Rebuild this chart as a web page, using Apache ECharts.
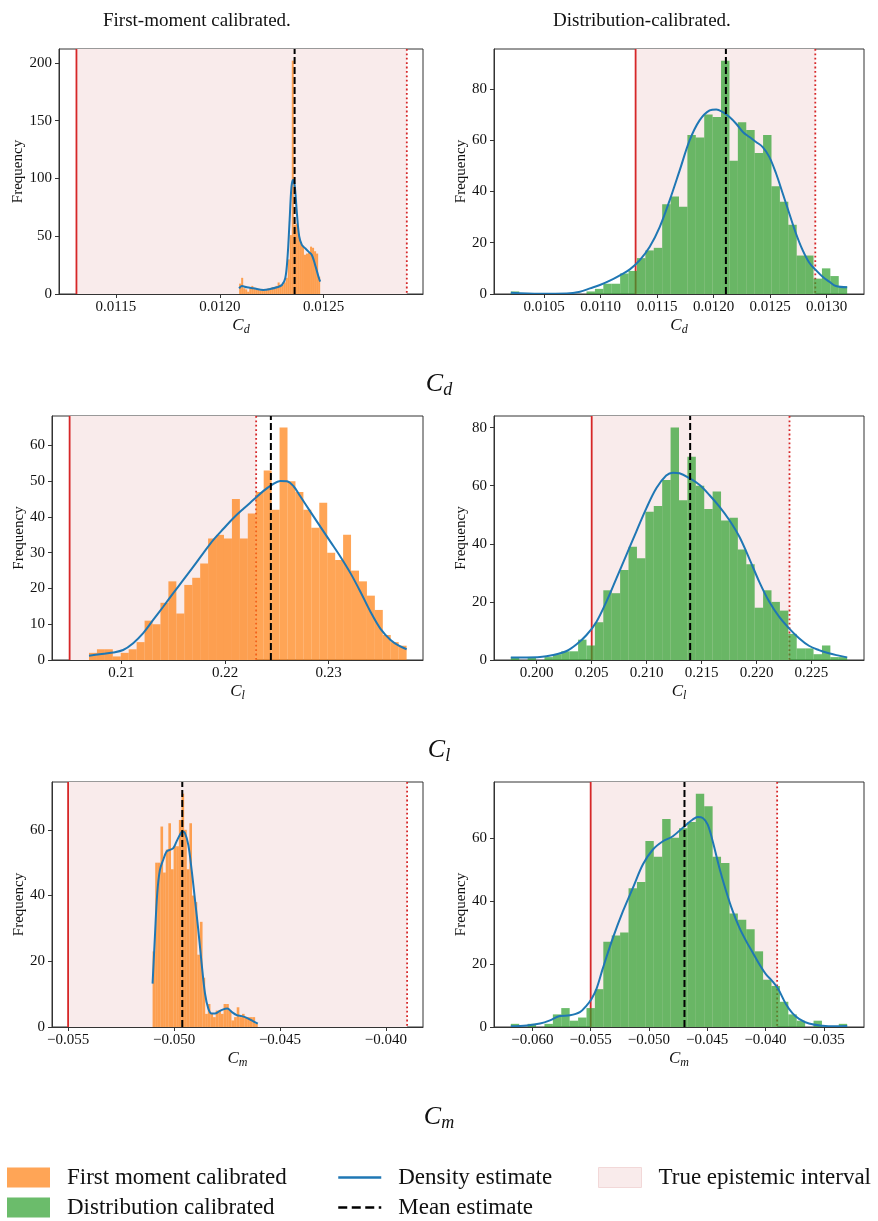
<!DOCTYPE html>
<html>
<head>
<meta charset="utf-8">
<script src="https://cdn.jsdelivr.net/npm/echarts@6/dist/echarts.min.js"></script>
<style>
  html, body { margin: 0; background: #fff; }
  #chart { width: 878px; height: 1221px; }
</style>
</head>
<body>
<div id="chart"></div>
<script>
// sample range [min, max] of each histogram, 40 equal bins
const cdFirstRange = [0.012093, 0.012483];
const cdFirstCounts = [9, 14, 5, 4, 2, 5, 7, 5, 4, 4, 3, 4, 3, 4, 5, 5, 6, 5, 7, 10, 8, 8, 10, 14, 30, 51, 202, 60, 61, 52, 45, 41, 34, 35, 36, 41, 40, 37, 35, 15];
const cdDistRange = [0.010206, 0.013182];
const cdDistCounts = [1, 0, 0, 0, 0, 0, 0, 0, 0, 1, 2, 4, 4, 8, 9, 14, 17, 18, 35, 38, 34, 62, 61, 70, 69, 91, 52, 67, 64, 55, 62, 42, 36, 27, 15, 15, 6, 10, 7, 3];
const clFirstRange = [0.20687, 0.23752];
const clFirstCounts = [2, 3, 3, 1, 2, 3, 5, 11, 10, 16, 22, 13, 21, 23, 27, 34, 35, 34, 45, 34, 41, 47, 53, 42, 65, 50, 47, 42, 37, 44, 30, 28, 35, 25, 22, 18, 14, 7, 5, 4];
const clDistRange = [0.19764, 0.22825];
const clDistCounts = [1, 0, 1, 0, 1, 2, 3, 3, 7, 5, 13, 24, 23, 31, 39, 35, 51, 53, 62, 80, 55, 70, 60, 52, 58, 48, 49, 38, 33, 18, 24, 20, 17, 9, 4, 4, 2, 5, 1, 1];
const cmFirstRange = [-0.051013, -0.046049];
const cmFirstCounts = [23, 50, 50, 61, 47, 54, 62, 48, 55, 55, 63, 71, 60, 48, 62, 40, 38, 22, 32, 15, 4, 7, 4, 3, 5, 5, 4, 7, 7, 5, 2, 3, 6, 3, 4, 3, 3, 3, 3, 1];
const cmDistRange = [-0.061852, -0.032991];
const cmDistCounts = [1, 0, 1, 0, 1, 4, 6, 2, 3, 6, 12, 27, 29, 30, 44, 46, 59, 54, 66, 60, 63, 65, 74, 70, 54, 52, 36, 34, 31, 24, 15, 13, 8, 4, 2, 0, 2, 0, 0, 1];

// density estimate (scaled to counts)
const cdFirstKdeX = [0.012093, 0.012106, 0.012130, 0.012162, 0.012210, 0.012242, 0.012275, 0.012299, 0.012315, 0.012326, 0.012336, 0.012345, 0.012353, 0.012361, 0.012371, 0.012382, 0.012395, 0.012411, 0.012427, 0.012443, 0.012459, 0.012475, 0.012483];
const cdFirstKdeY = [4.9, 6.9, 5.8, 4.9, 3.5, 4.3, 5.8, 7.8, 13.6, 32, 64, 93, 99, 93, 70, 50, 42.5, 39.6, 36.7, 33.8, 25, 15, 10.7];
const cdDistKdeX = [0.010206, 0.010465, 0.010700, 0.010818, 0.010906, 0.010994, 0.011082, 0.011171, 0.011259, 0.011347, 0.011435, 0.011524, 0.011612, 0.011700, 0.011788, 0.011876, 0.011965, 0.012024, 0.012082, 0.012141, 0.012200, 0.012259, 0.012318, 0.012376, 0.012435, 0.012494, 0.012553, 0.012612, 0.012670, 0.012729, 0.012788, 0.012847, 0.012906, 0.012965, 0.013024, 0.013082, 0.013182];
const cdDistKdeY = [0.5, 0.1, 0.2, 0.9, 2.2, 3.5, 5.2, 7.3, 9.6, 13.2, 18.4, 26.2, 36.6, 48.2, 59.9, 67.7, 71.6, 72, 70.9, 69, 66.4, 63.2, 61.2, 59.3, 57.3, 53.4, 47, 39.2, 31.4, 23.6, 17.1, 12.2, 9.3, 6.7, 4.8, 3.1, 2.6];
const clFirstKdeX = [0.20687, 0.20790, 0.20919, 0.21016, 0.21113, 0.21210, 0.21306, 0.21403, 0.21500, 0.21597, 0.21694, 0.21790, 0.21887, 0.21984, 0.22081, 0.22177, 0.22274, 0.22371, 0.22452, 0.22532, 0.22597, 0.22661, 0.22726, 0.22823, 0.22919, 0.23016, 0.23113, 0.23210, 0.23306, 0.23403, 0.23500, 0.23597, 0.23677, 0.23752];
const clFirstKdeY = [1.2, 1.6, 2.1, 2.8, 4.7, 7.5, 11.2, 14.9, 18.7, 22.4, 26.1, 29.9, 33.6, 36.7, 39.7, 42.3, 44.8, 47.3, 49, 50.1, 50, 48.6, 45.8, 41.5, 37.3, 33.1, 28.9, 24.3, 19.1, 13.5, 8.7, 5.6, 4, 3];
const clDistKdeX = [0.19764, 0.19909, 0.20030, 0.20151, 0.20272, 0.20363, 0.20453, 0.20544, 0.20634, 0.20725, 0.20816, 0.20906, 0.20997, 0.21088, 0.21178, 0.21239, 0.21299, 0.21390, 0.21480, 0.21571, 0.21662, 0.21752, 0.21843, 0.21933, 0.22024, 0.22115, 0.22205, 0.22296, 0.22387, 0.22477, 0.22568, 0.22658, 0.22749, 0.22825];
const clDistKdeY = [0.9, 0.9, 1, 1.7, 3.1, 5.4, 8.6, 13.2, 20.1, 28.1, 36.2, 44.2, 52.2, 59.1, 63.5, 64.5, 64.3, 62.6, 60.3, 56.8, 52.8, 48.2, 42.5, 35, 27, 20.1, 14.9, 10.9, 7.5, 4.9, 3.4, 2.3, 1.5, 0.9];
const cmFirstKdeX = [-0.051013, -0.050903, -0.050793, -0.050666, -0.050509, -0.050351, -0.050194, -0.050036, -0.049879, -0.049721, -0.049611, -0.049485, -0.049327, -0.049170, -0.049012, -0.048854, -0.048697, -0.048539, -0.048382, -0.048224, -0.048067, -0.047909, -0.047704, -0.047484, -0.047279, -0.047043, -0.046806, -0.046570, -0.046333, -0.046049];
const cmFirstKdeY = [13.2, 27.5, 40.7, 47.8, 50.9, 53.4, 53.9, 54.4, 56.5, 58.5, 59.5, 59.0, 55.4, 47.8, 38.7, 29.5, 19.3, 10.2, 5.6, 4.1, 4.1, 4.6, 5.3, 5.6, 4.6, 3.6, 3.3, 2.8, 2.0, 1.0];
const cmDistKdeX = [-0.061852, -0.060484, -0.059345, -0.058490, -0.057635, -0.056781, -0.055926, -0.055356, -0.054929, -0.054501, -0.053932, -0.053077, -0.052222, -0.051368, -0.050513, -0.049658, -0.048803, -0.047949, -0.046951, -0.046239, -0.045812, -0.045384, -0.044957, -0.044530, -0.043960, -0.043390, -0.042820, -0.042251, -0.041681, -0.041111, -0.040541, -0.039972, -0.039402, -0.038918, -0.038262, -0.037692, -0.037122, -0.036268, -0.035128, -0.033989, -0.032991];
const cmDistKdeY = [0.2, 0.5, 1.1, 2.1, 3.5, 3.7, 4.7, 6.8, 8.9, 12.1, 18.9, 28.4, 36.8, 44.2, 51.6, 56.3, 58.9, 60.5, 63.7, 65.8, 66.6, 66.3, 64.2, 58.9, 50.5, 43.2, 36.8, 31.6, 27.4, 23.7, 20, 16.8, 14.5, 12.1, 7.4, 4.4, 2.6, 1.1, 0.4, 0.2, 0.3];

// mean estimates
const cdFirstMean = 0.01236;
const cdDistMean = 0.012109;
const clFirstMean = 0.22442;
const clDistMean = 0.21396;
const cmFirstMean = -0.049611;
const cmDistMean = -0.046951;

// true epistemic intervals [lower, upper]
const cdInterval = [0.01131, 0.0129];
const clInterval = [0.205, 0.223];
const cmInterval = [-0.055, -0.039];

// tick labels
const cdFirstTicks = [0.0115, 0.012, 0.0125];
const cdDistTicks = [0.0105, 0.011, 0.0115, 0.012, 0.0125, 0.013];
const clFirstTicks = [0.21, 0.22, 0.23];
const clDistTicks = [0.2, 0.205, 0.21, 0.215, 0.22, 0.225];
const cmFirstTicks = [-0.055, -0.05, -0.045, -0.04];
const cmDistTicks = [-0.06, -0.055, -0.05, -0.045, -0.04, -0.035];
const cdFirstFreqTicks = [0, 50, 100, 150, 200];
const cdDistFreqTicks = [0, 20, 40, 60, 80];
const clFirstFreqTicks = [0, 10, 20, 30, 40, 50, 60];
const clDistFreqTicks = [0, 20, 40, 60, 80];
const cmFirstFreqTicks = [0, 20, 40, 60];
const cmDistFreqTicks = [0, 20, 40, 60];

const FONT = "'Liberation Serif', 'DejaVu Serif', serif";
const ORANGE = "rgba(255,127,14,0.7)";
const GREEN = "rgba(44,160,44,0.7)";
const BLUE = "#1f77b4";
const RED = "#d62728";
const PINK = "#f9ebeb";
const FIRST = "First moment calibrated";
const DIST = "Distribution calibrated";

const panels = [
  { grid: [59, 49, 364, 245], x: [0.011226, 0.012978], yMax: 212.1, xTicks: cdFirstTicks, yTicks: cdFirstFreqTicks, dec: 4, sub: "d",
    range: cdFirstRange, counts: cdFirstCounts, kx: cdFirstKdeX, ky: cdFirstKdeY, mean: cdFirstMean, interval: cdInterval, name: FIRST, color: ORANGE, gap: 33 },
  { grid: [494, 49, 370, 245], x: [0.010057, 0.013331], yMax: 95.55, xTicks: cdDistTicks, yTicks: cdDistFreqTicks, dec: 4, sub: "d",
    range: cdDistRange, counts: cdDistCounts, kx: cdDistKdeX, ky: cdDistKdeY, mean: cdDistMean, interval: cdInterval, name: DIST, color: GREEN, gap: 25 },
  { grid: [52, 416, 371, 244], x: [0.2033, 0.2391], yMax: 68.25, xTicks: clFirstTicks, yTicks: clFirstFreqTicks, dec: 2, sub: "l",
    range: clFirstRange, counts: clFirstCounts, kx: clFirstKdeX, ky: clFirstKdeY, mean: clFirstMean, interval: clInterval, name: FIRST, color: ORANGE, gap: 24 },
  { grid: [494, 416, 370, 244], x: [0.19611, 0.22978], yMax: 84, xTicks: clDistTicks, yTicks: clDistFreqTicks, dec: 3, sub: "l",
    range: clDistRange, counts: clDistCounts, kx: clDistKdeX, ky: clDistKdeY, mean: clDistMean, interval: clInterval, name: DIST, color: GREEN, gap: 25 },
  { grid: [52, 782, 371, 245], x: [-0.05576, -0.03825], yMax: 74.55, xTicks: cmFirstTicks, yTicks: cmFirstFreqTicks, dec: 3, sub: "m",
    range: cmFirstRange, counts: cmFirstCounts, kx: cmFirstKdeX, ky: cmFirstKdeY, mean: cmFirstMean, interval: cmInterval, name: FIRST, color: ORANGE, gap: 24 },
  { grid: [494, 782, 370, 245], x: [-0.063295, -0.031548], yMax: 77.7, xTicks: cmDistTicks, yTicks: cmDistFreqTicks, dec: 3, sub: "m",
    range: cmDistRange, counts: cmDistCounts, kx: cmDistKdeX, ky: cmDistKdeY, mean: cmDistMean, interval: cmInterval, name: DIST, color: GREEN, gap: 25 },
];

function toBins(range, counts) {
  const w = (range[1] - range[0]) / counts.length;
  return counts.map((c, i) => [range[0] + i * w, range[0] + (i + 1) * w, c]);
}

function fmt(dec) {
  return (v) => (v < 0 ? "\u2212" : "") + Math.abs(v).toFixed(dec);
}

function subRich(big, small, lh) {
  return {
    i: { fontFamily: FONT, fontStyle: "italic", fontWeight: "normal", fontSize: big, lineHeight: lh, verticalAlign: "middle", color: "#111" },
    s: { fontFamily: FONT, fontStyle: "italic", fontWeight: "normal", fontSize: small, lineHeight: small * 0.8, verticalAlign: "bottom", color: "#111" },
  };
}

const grid = [], xAxis = [], yAxis = [], series = [];

panels.forEach((p, i) => {
  grid.push({ left: p.grid[0], top: p.grid[1], width: p.grid[2], height: p.grid[3],
    show: true, borderColor: "#333", borderWidth: 1, backgroundColor: "transparent" });

  xAxis.push({
    gridIndex: i, type: "value", min: p.x[0], max: p.x[1], z: 10,
    axisLine: { show: true, onZero: false, lineStyle: { color: "#333", width: 1 } },
    axisTick: { show: true, length: 4, customValues: p.xTicks, lineStyle: { color: "#333" } },
    axisLabel: { customValues: p.xTicks, formatter: fmt(p.dec), fontFamily: FONT, fontSize: 15, color: "#111", margin: 6 },
    splitLine: { show: false },
    name: "{i|C}{s|" + p.sub + "}", nameLocation: "middle", nameGap: 22,
    nameTextStyle: { rich: subRich(17, 12, 20) },
  });

  yAxis.push({
    gridIndex: i, type: "value", min: 0, max: p.yMax, z: 10,
    axisLine: { show: true, lineStyle: { color: "#333", width: 1 } },
    axisTick: { show: true, length: 4, customValues: p.yTicks, lineStyle: { color: "#333" } },
    axisLabel: { customValues: p.yTicks, fontFamily: FONT, fontSize: 15, color: "#111", margin: 7 },
    splitLine: { show: false },
    name: "Frequency", nameLocation: "middle", nameRotate: 90, nameGap: p.gap,
    nameTextStyle: { fontFamily: FONT, fontSize: 15, color: "#111" },
  });

  // shaded interval with its lower (solid) and upper (dotted) bounds
  series.push({
    name: "True epistemic interval", type: "custom", xAxisIndex: i, yAxisIndex: i, z: 1, silent: true,
    itemStyle: { color: PINK },
    data: [p.interval],
    renderItem: (params, api) => {
      const cs = params.coordSys;
      const x0 = api.coord([api.value(0), 0])[0];
      const x1 = api.coord([api.value(1), 0])[0];
      return {
        type: "group",
        children: [
          { type: "rect", shape: { x: x0, y: cs.y, width: x1 - x0, height: cs.height }, style: { fill: PINK } },
          { type: "line", shape: { x1: x0, y1: cs.y, x2: x0, y2: cs.y + cs.height }, style: { stroke: RED, lineWidth: 1.8 } },
          { type: "line", shape: { x1: x1, y1: cs.y, x2: x1, y2: cs.y + cs.height }, style: { stroke: RED, lineWidth: 1.8, lineDash: [1.8, 2.6] } },
        ],
      };
    },
  });

  series.push({
    name: p.name, type: "custom", xAxisIndex: i, yAxisIndex: i, z: 2, silent: true,
    itemStyle: { color: p.color },
    encode: { x: [0, 1], y: 2 },
    data: toBins(p.range, p.counts),
    renderItem: (params, api) => {
      const a = api.coord([api.value(0), api.value(2)]);
      const b = api.coord([api.value(1), 0]);
      return { type: "rect", shape: { x: a[0], y: a[1], width: b[0] - a[0], height: b[1] - a[1] }, style: { fill: p.color } };
    },
  });

  series.push({
    name: "Density estimate", type: "line", xAxisIndex: i, yAxisIndex: i, z: 3, silent: true,
    symbol: "none", smooth: 0.35,
    lineStyle: { color: BLUE, width: 2 },
    itemStyle: { color: BLUE },
    data: p.kx.map((x, k) => [x, p.ky[k]]),
  });

  series.push({
    name: "Mean estimate", type: "line", xAxisIndex: i, yAxisIndex: i, z: 4, silent: true,
    symbol: "none",
    lineStyle: { color: "#000", width: 2, type: [7, 3] },
    itemStyle: { color: "#000" },
    data: [[p.mean, 0], [p.mean, p.yMax]],
  });
});

const titleStyle = { fontFamily: FONT, fontSize: 19, fontWeight: "normal", color: "#111" };
const rowRich = subRich(26, 18, 30);
const noSymbol = { color: "rgba(0,0,0,0)", borderWidth: 0, opacity: 0 };

const legendBase = {
  orient: "vertical", top: 1166, height: 120, padding: 0, itemGap: 7, itemWidth: 43, itemHeight: 20,
  selectedMode: false,
  textStyle: { fontFamily: FONT, fontSize: 23, color: "#111", lineHeight: 20, padding: [0, 0, 0, 12] },
};

const chart = echarts.init(document.getElementById("chart"));
chart.setOption({
  animation: false,
  backgroundColor: "#fff",
  title: [
    { text: "First-moment calibrated.", left: 98, top: 7, textStyle: titleStyle },
    { text: "Distribution-calibrated.", left: 548, top: 7, textStyle: titleStyle },
    { text: "{i|C}{s|d}", left: "center", top: 364, textStyle: { fontWeight: "normal", rich: rowRich } },
    { text: "{i|C}{s|l}", left: "center", top: 730, textStyle: { fontWeight: "normal", rich: rowRich } },
    { text: "{i|C}{s|m}", left: "center", top: 1097, textStyle: { fontWeight: "normal", rich: rowRich } },
  ],
  legend: [
    Object.assign({}, legendBase, { left: 7, data: [
      { name: FIRST, icon: "rect", itemStyle: { color: ORANGE } },
      { name: DIST, icon: "rect", itemStyle: { color: GREEN } },
    ] }),
    Object.assign({}, legendBase, { left: 337, data: [
      { name: "Density estimate", itemStyle: noSymbol, lineStyle: { width: 2.5 } },
      { name: "Mean estimate", itemStyle: noSymbol, lineStyle: { width: 2.5, type: [9, 4.5] } },
    ] }),
    Object.assign({}, legendBase, { left: 598, data: [
      { name: "True epistemic interval", icon: "rect", itemStyle: { color: PINK, borderColor: "#f2d8d8", borderWidth: 1 } },
    ] }),
  ],
  grid: grid,
  xAxis: xAxis,
  yAxis: yAxis,
  series: series,
});
</script>
</body>
</html>
